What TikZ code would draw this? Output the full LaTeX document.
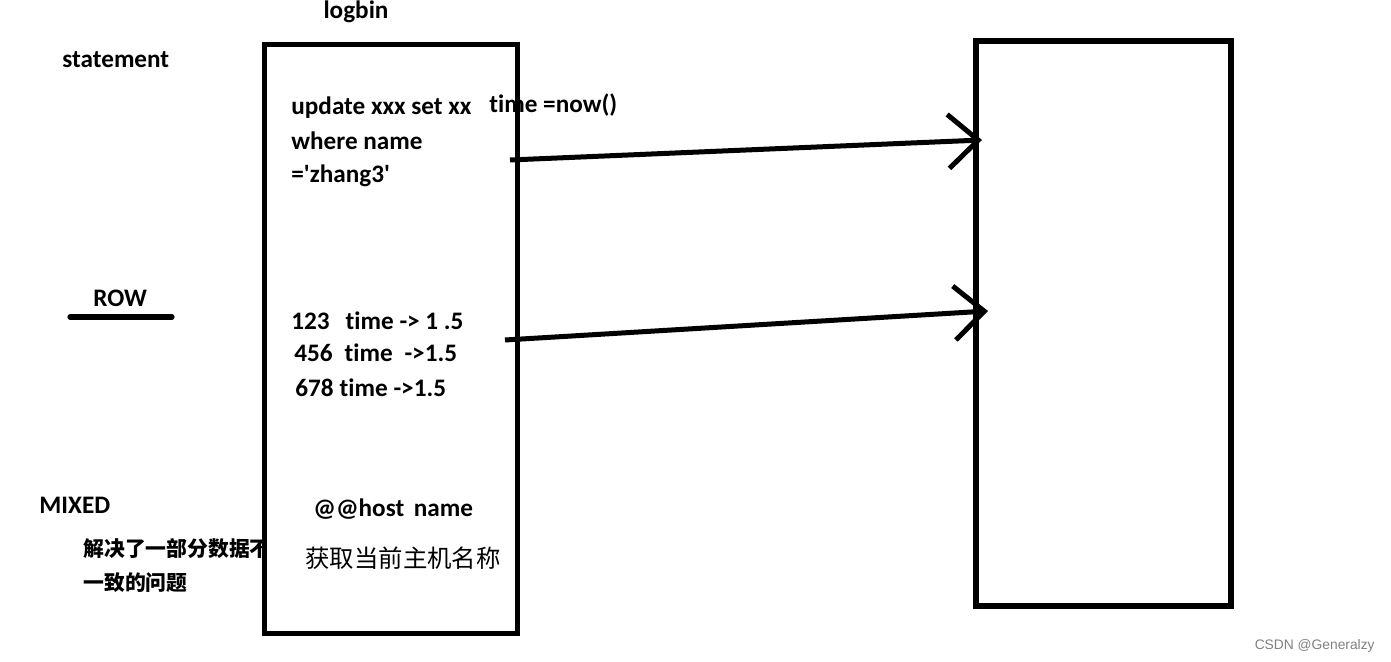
\documentclass[tikz,border=0pt]{standalone}
\usepackage{fontspec}
\setmainfont{Carlito}[Ligatures={NoCommon}]
\setsansfont{Liberation Sans}
\newfontfamily\cjk{Noto Sans CJK SC}
\usetikzlibrary{arrows.meta,positioning}
\tikzset{
  lbl/.style={anchor=base west,inner sep=0pt,font=\fontsize{12.6}{15}\selectfont\bfseries},
  zh/.style={anchor=base west,inner sep=0pt,font=\fontsize{10.4}{12}\selectfont\cjk\bfseries},
  frame/.style={line width=2.8pt},
  link/.style={line width=2.5pt,-{Straight Barb[length=15pt,width=27pt]}}
}
\begin{document}
\begin{tikzpicture}[x=0.5pt,y=-0.5pt]
\useasboundingbox (0,0) rectangle (1391,662);
% left side labels
\node[lbl] (stmt) at (62,68) {statement};
\node[lbl] (row) at (93,307) {ROW};
\draw[line width=2.6pt,line cap=round] (70,317) -- (172,317);
\node[lbl] (mixed) at (39,513) {MIXED};
\node[zh] (mix1) at (83,556) {解决了一部分数据不};
\node[zh] (mix2) at (83,590) {一致的问题};
% logbin box
\node[lbl,anchor=base] (title) at (356,19) {logbin};
\node[fill=white,minimum width=126pt,minimum height=294pt,inner sep=0pt] (logbox) at (391,339) {};
\node[lbl] (sql1) at (291,115) {update xxx set xx};
\node[lbl] (now) at (489,113) {time =now()};
\node[lbl] (sql2) at (291,150) {where name};
\node[lbl] (sql3) at (291,183) {=\textquotesingle zhang3\textquotesingle};
\node[lbl] (r1) at (291,330) {123\hspace{8pt}time -> 1 .5};
\node[lbl] (r2) at (294,362) {456\hspace{6pt}time\hspace{3pt} ->1.5};
\node[lbl] (r3) at (295,396) {678\hspace{3pt}time ->1.5};
\node[lbl] (host) at (313,516) {@@host\hspace{2pt} name};
\node[anchor=base west,inner sep=0pt,font=\fontsize{12.2}{14}\selectfont\cjk] (hostzh) at (305,567) {获取当前主机名称};
\draw[frame] (logbox.north west) rectangle (logbox.south east);
% slave box
\node[draw,frame,minimum width=127.5pt,minimum height=282.5pt,inner sep=0pt] (slave) at (1103.5,323.5) {};
% connectors
\coordinate (s1) at (510,160);
\coordinate (t1) at (982,140);
\coordinate (s2) at (505,340);
\coordinate (t2) at (988,311);
\draw[link] (s1) -- (t1);
\draw[link] (s2) -- (t2);
\node[anchor=base east,inner sep=0pt,font=\sffamily\fontsize{6.9}{8}\selectfont,text=gray] (mark) at (1375,649) {CSDN @Generalzy};
\end{tikzpicture}
\end{document}
